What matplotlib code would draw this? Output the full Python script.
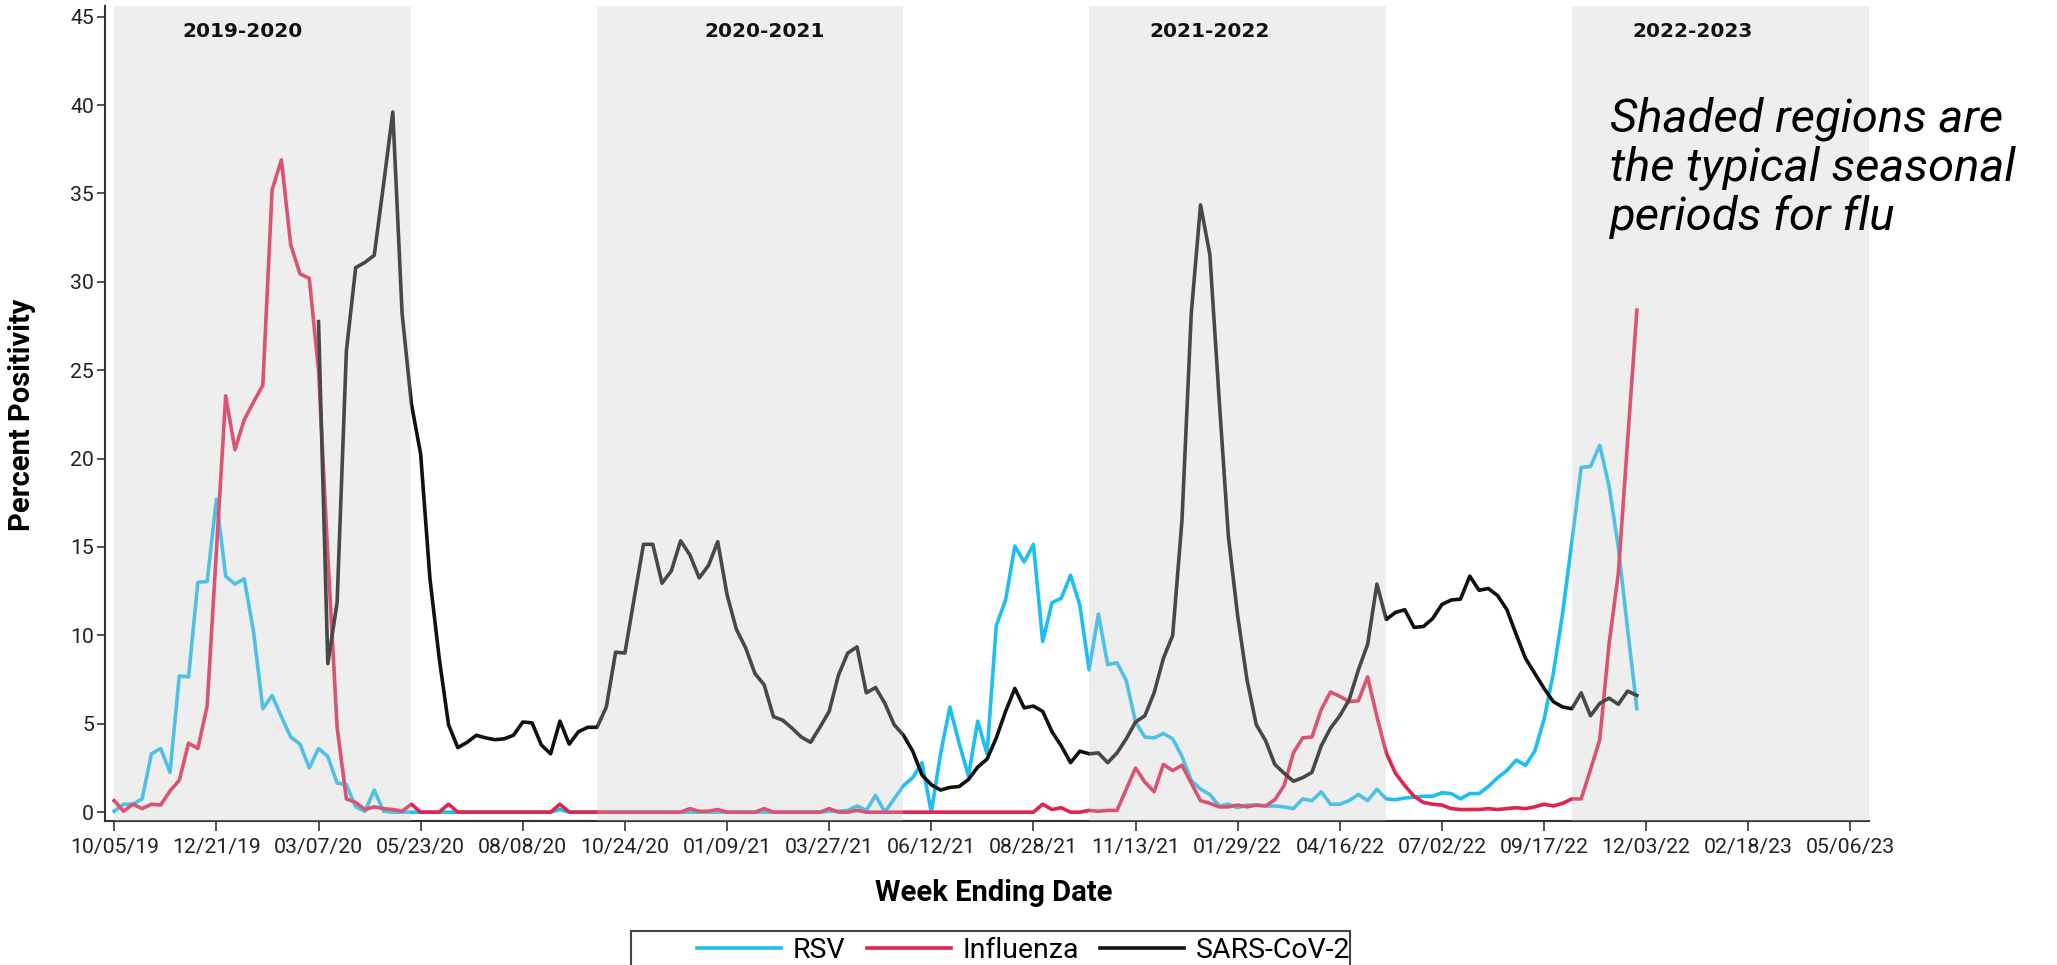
import matplotlib
matplotlib.use("Agg")
import matplotlib.pyplot as plt
import matplotlib.dates as mdates
from matplotlib.patches import Rectangle
import numpy as np
import pandas as pd

# semanas (fin de semana) desde 10/05/19
FIRST_WEEK = "2019-10-05"
COVID_START = 22  # primera semana con dato de SARS-CoV-2 (03/07/20)

rsv = [
    0.05, 0.45, 0.45, 0.75, 3.3, 3.6, 2.25, 7.7, 7.65, 13.0,
    13.05, 17.7, 13.35, 12.9, 13.2, 10.2, 5.85, 6.6, 5.4, 4.25,
    3.85, 2.5, 3.6, 3.15, 1.65, 1.55, 0.3, 0.05, 1.25, 0.05,
    0, 0, 0, 0, 0, 0, 0, 0, 0, 0,
    0, 0, 0, 0, 0, 0, 0, 0, 0.15, 0,
    0, 0, 0, 0, 0, 0, 0, 0, 0, 0,
    0, 0, 0, 0, 0, 0, 0, 0, 0, 0,
    0, 0, 0, 0, 0, 0, 0, 0.05, 0.05, 0.1,
    0.35, 0.1, 0.95, 0.0, 0.75, 1.5, 1.95, 2.8, 0.0, 3.3,
    5.95, 3.9, 2.05, 5.15, 3.3, 10.55, 12.0, 15.05, 14.15, 15.15,
    9.65, 11.85, 12.1, 13.4, 11.7, 8.05, 11.2, 8.35, 8.45, 7.45,
    5.1, 4.25, 4.2, 4.45, 4.15, 3.15, 1.8, 1.3, 1.0, 0.35,
    0.45, 0.25, 0.4, 0.4, 0.35, 0.35, 0.3, 0.2, 0.75, 0.65,
    1.15, 0.45, 0.45, 0.65, 1.0, 0.65, 1.3, 0.75, 0.7, 0.8,
    0.85, 0.9, 0.9, 1.1, 1.05, 0.75, 1.05, 1.05, 1.45, 1.95,
    2.35, 2.95, 2.65, 3.45, 5.25, 7.85, 11.25, 15.3, 19.5, 19.55,
    20.75, 18.45, 15.0, 10.35, 5.85,
]

flu = [
    0.65, 0.05, 0.45, 0.2, 0.45, 0.4, 1.2, 1.8, 3.9, 3.6,
    6.0, 14.8, 23.55, 20.5, 22.2, 23.2, 24.15, 35.2, 36.9, 32.1,
    30.45, 30.2, 25.0, 14.5, 4.8, 0.75, 0.55, 0.15, 0.3, 0.2,
    0.15, 0.05, 0.45, 0, 0, 0, 0.45, 0, 0, 0,
    0, 0, 0, 0, 0, 0, 0, 0, 0.45, 0,
    0, 0, 0, 0, 0, 0, 0, 0, 0, 0,
    0, 0, 0.2, 0.05, 0.05, 0.15, 0, 0, 0, 0,
    0.2, 0, 0, 0, 0, 0, 0, 0.2, 0, 0,
    0.1, 0, 0, 0, 0, 0, 0, 0, 0, 0,
    0, 0, 0, 0, 0, 0, 0, 0, 0, 0,
    0.45, 0.15, 0.25, 0.0, 0.0, 0.1, 0.05, 0.1, 0.1, 1.3,
    2.5, 1.7, 1.15, 2.7, 2.35, 2.65, 1.65, 0.65, 0.5, 0.3,
    0.3, 0.4, 0.3, 0.4, 0.35, 0.7, 1.5, 3.35, 4.2, 4.25,
    5.8, 6.8, 6.55, 6.25, 6.3, 7.65, 5.4, 3.35, 2.2, 1.5,
    0.9, 0.55, 0.45, 0.4, 0.2, 0.15, 0.15, 0.15, 0.2, 0.15,
    0.2, 0.25, 0.2, 0.3, 0.45, 0.35, 0.5, 0.75, 0.75, 2.4,
    4.1, 9.5, 13.5, 21.0, 28.4,
]

covid = [
    27.75, 8.4, 11.85, 26.1, 30.8, 31.1, 31.5, 35.5,
    39.6, 28.2, 23.1, 20.25, 13.2, 8.7, 4.95, 3.65, 3.95, 4.35,
    4.2, 4.1, 4.15, 4.35, 5.1, 5.05, 3.8, 3.3, 5.15, 3.85,
    4.55, 4.8, 4.8, 5.95, 9.05, 9.0, 12.1, 15.15, 15.15, 12.95,
    13.65, 15.35, 14.55, 13.25, 13.95, 15.3, 12.3, 10.35, 9.3, 7.85,
    7.2, 5.4, 5.2, 4.75, 4.25, 3.95, 4.8, 5.7, 7.75, 9.0,
    9.35, 6.75, 7.05, 6.15, 4.95, 4.35, 3.45, 2.1, 1.55, 1.25,
    1.4, 1.45, 1.85, 2.55, 3.0, 4.2, 5.7, 7.0, 5.9, 6.0,
    5.7, 4.55, 3.75, 2.8, 3.45, 3.3, 3.35, 2.8, 3.35, 4.15,
    5.1, 5.45, 6.75, 8.7, 10.0, 16.5, 28.2, 34.35, 31.55, 23.4,
    15.6, 11.1, 7.5, 4.95, 4.05, 2.7, 2.2, 1.75, 1.95, 2.25,
    3.75, 4.75, 5.45, 6.35, 8.05, 9.5, 12.9, 10.9, 11.3, 11.45,
    10.45, 10.5, 10.95, 11.75, 12.0, 12.05, 13.35, 12.55, 12.65, 12.25,
    11.45, 10.05, 8.7, 7.85, 7.0, 6.25, 5.95, 5.85, 6.75, 5.45,
    6.15, 6.45, 6.1, 6.85, 6.6,
]

# temporadas de gripe (semana 40 a semana 20)
season_labels = ["2019-2020", "2020-2021", "2021-2022", "2022-2023"]
season_start = ["2019-10-05", "2020-10-03", "2021-10-09", "2022-10-08"]
season_end = ["2020-05-16", "2021-05-22", "2022-05-21", "2023-05-20"]
season_label_at = ["2020-01-10", "2021-02-06", "2022-01-08", "2023-01-07"]

ROBOTO = ["Roboto", "DejaVu Sans"]
AXIS_COLOR = "#333333"


def grafico():
    weeks = pd.date_range(FIRST_WEEK, periods=len(rsv), freq="7D")
    ticks = pd.date_range(FIRST_WEEK, periods=18, freq="77D")

    fig = plt.figure(figsize=(20.57, 9.65), dpi=100)
    ax = fig.add_axes([105 / 2057, 144 / 965, 1764 / 2057, 815 / 965])

    ax.plot(weeks, rsv, color="#1cbff2", lw=2.6, label="RSV", zorder=2)
    ax.plot(weeks, flu, color="#e2234e", lw=2.6, label="Influenza", zorder=2)
    ax.plot(weeks[COVID_START:], covid, color="#111111", lw=2.6,
            label="SARS-CoV-2", zorder=2)

    # sombreado encima de las lineas, como en el original
    for s, e in zip(season_start, season_end):
        ax.axvspan(pd.Timestamp(s), pd.Timestamp(e), color="#c8c8c8",
                   alpha=0.3, lw=0, zorder=3)
    for lab, d in zip(season_labels, season_label_at):
        ax.text(pd.Timestamp(d), 0.969, lab, transform=ax.get_xaxis_transform(),
                ha="center", va="center", fontsize=14.5, fontweight="bold",
                family="DejaVu Sans", color="#111111", zorder=4)

    ax.set_xlim(pd.Timestamp("2019-09-28"), pd.Timestamp("2023-05-20"))
    ax.set_ylim(-0.5, 45.6)
    ax.set_xticks(ticks)
    ax.xaxis.set_major_formatter(mdates.DateFormatter("%m/%d/%y"))
    ax.set_yticks(np.arange(0, 46, 5))

    for side in ["top", "right"]:
        ax.spines[side].set_visible(False)
    for side in ["left", "bottom"]:
        ax.spines[side].set_color(AXIS_COLOR)
        ax.spines[side].set_linewidth(1.5)

    ax.tick_params(axis="x", length=7, width=1.2, color=AXIS_COLOR, pad=5,
                   labelsize=15.3, labelcolor="#222222")
    ax.tick_params(axis="y", length=6, width=1.2, color=AXIS_COLOR, pad=2,
                   labelsize=15.3, labelcolor="#222222")
    for t in ax.get_xticklabels() + ax.get_yticklabels():
        t.set_family(ROBOTO)

    fig.text(22 / 2057, 0.570, "Percent Positivity", rotation=90, ha="center",
             va="center", fontsize=21, fontweight="bold", family=ROBOTO)
    fig.text(994 / 2057, 0.0746, "Week Ending Date", ha="center", va="center",
             fontsize=21, fontweight="bold", family=ROBOTO)

    fig.text(1610 / 2057, 0.90,
             "Shaded regions are\nthe typical seasonal\nperiods for flu",
             ha="left", va="top", fontsize=34, style="italic", family=ROBOTO,
             linespacing=1.14)

    # leyenda abajo, con el marco cortado por el borde
    fig.legend(loc="center left", bbox_to_anchor=(683 / 2057, 15 / 965), ncol=3,
               frameon=False, borderpad=0, handlelength=2.95, handletextpad=0.41,
               columnspacing=0.74, prop={"family": ROBOTO, "size": 20.5})
    fig.patches.append(Rectangle((631 / 2057, -0.05), 719 / 2057, 34 / 965 + 0.05,
                                 transform=fig.transFigure, fill=False,
                                 edgecolor="#444444", lw=1.5))

    fig.savefig("out.png", dpi=100)


if __name__ == '__main__':
    grafico()
